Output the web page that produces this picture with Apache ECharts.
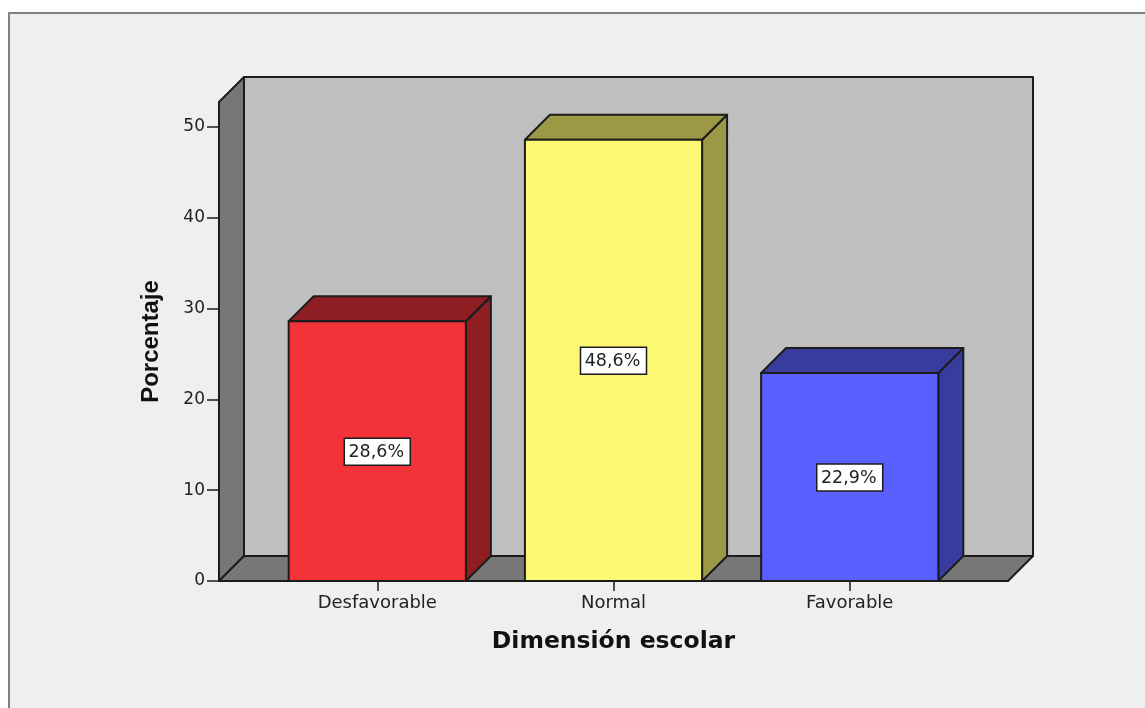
<!DOCTYPE html>
<html>
<head>
<meta charset="utf-8">
<title>Dimensión escolar</title>
<script src="https://cdn.jsdelivr.net/npm/echarts@6/dist/echarts.min.js"></script>
<style>
  html, body { margin: 0; padding: 0; background: #fff; overflow: hidden; }
  /* SPSS style output frame: border only on the top and left */
  #frame {
    position: absolute; left: 8px; top: 12px; right: 0; bottom: 0;
    background: #efefef; border-top: 2px solid #808080; border-left: 2px solid #808080;
  }
  #chart { position: absolute; left: 0; top: 0; width: 1145px; height: 708px; }
</style>
</head>
<body>
<div id="frame"></div>
<div id="chart"></div>
<script>
const categories = ["Desfavorable", "Normal", "Favorable"];
const percentages = [28.6, 48.6, 22.9];
const frontColors = ["#f23339", "#fcf873", "#5a60ff"];
const sideColors = ["#8e1e22", "#9c9845", "#383c9e"];
const yTicks = [0, 10, 20, 30, 40, 50];

const Y_MAX = 52.75;
const X_MIN = -0.67;
const X_MAX = 2.67;
const BAR_HALF = 0.375;
const DEPTH = 25; // px offset of the fake 3D depth
const LINE = "#1c1c1c";
const FONT = "DejaVu Sans";

const poly = (points, fill) => ({
  type: "polygon",
  shape: { points },
  style: { fill, stroke: LINE, lineWidth: 2, lineJoin: "round" },
});

// Back wall, left wall and floor
const renderWalls = (params, api) => {
  const [x0, y0] = api.coord([X_MIN, 0]);
  const [x1, y1] = api.coord([X_MAX, Y_MAX]);
  const d = DEPTH;
  return {
    type: "group",
    children: [
      poly([[x0 + d, y0 - d], [x1 + d, y0 - d], [x1 + d, y1 - d], [x0 + d, y1 - d]], "#bfbfbf"),
      poly([[x0, y0], [x0 + d, y0 - d], [x0 + d, y1 - d], [x0, y1]], "#777777"),
      poly([[x0, y0], [x1, y0], [x1 + d, y0 - d], [x0 + d, y0 - d]], "#777777"),
    ],
  };
};

const renderBar = (params, api) => {
  const i = api.value(0);
  const v = api.value(1);
  const [l, t] = api.coord([i - BAR_HALF, v]);
  const [r, b] = api.coord([i + BAR_HALF, 0]);
  const [cx, cy] = api.coord([i, v / 2]);
  const d = DEPTH;
  const label = v.toFixed(1).replace(".", ",") + "%";
  return {
    type: "group",
    children: [
      poly([[r, b], [r + d, b - d], [r + d, t - d], [r, t]], sideColors[i]),
      poly([[l, t], [r, t], [r + d, t - d], [l + d, t - d]], sideColors[i]),
      poly([[l, t], [r, t], [r, b], [l, b]], frontColors[i]),
      {
        type: "rect",
        shape: { x: cx - 33, y: cy - 13, width: 66, height: 27 },
        style: { fill: "#fff", stroke: LINE, lineWidth: 1.5 },
      },
      {
        type: "text",
        x: cx - 1,
        y: cy + 1,
        style: {
          text: label,
          fill: "#222",
          font: `17.5px "${FONT}"`,
          align: "center",
          verticalAlign: "middle",
        },
      },
    ],
  };
};

const chart = echarts.init(document.getElementById("chart"));
chart.setOption({
  animation: false,
  grid: { left: 219, right: 137, top: 102, bottom: 127 },
  xAxis: {
    type: "value",
    min: X_MIN,
    max: X_MAX,
    splitLine: { show: false },
    name: "Dimensión escolar",
    nameLocation: "middle",
    nameGap: 49,
    nameTextStyle: { fontFamily: FONT, fontWeight: "bold", fontSize: 23.5, color: "#111" },
    axisLine: { show: true, onZero: false, lineStyle: { color: LINE, width: 2 } },
    axisTick: {
      show: true,
      length: 10,
      customValues: [0, 1, 2],
      lineStyle: { color: LINE, width: 1.5 },
    },
    axisLabel: {
      customValues: [0, 1, 2],
      formatter: (v) => categories[v],
      fontFamily: FONT,
      fontSize: 18,
      color: "#222",
      margin: 13,
    },
  },
  yAxis: {
    type: "value",
    min: 0,
    max: Y_MAX,
    interval: 10,
    splitLine: { show: false },
    name: "Porcentaje",
    nameLocation: "middle",
    nameGap: 56,
    nameTextStyle: { fontFamily: "Liberation Sans", fontWeight: "bold", fontSize: 24, color: "#111" },
    axisLine: { show: true, onZero: false, lineStyle: { color: LINE, width: 2 } },
    axisTick: {
      show: true,
      inside: false,
      length: 12,
      customValues: yTicks,
      lineStyle: { color: LINE, width: 1.5 },
    },
    axisLabel: {
      customValues: yTicks,
      fontFamily: FONT,
      fontSize: 17,
      color: "#222",
      margin: 14,
      verticalAlign: "middle",
      lineHeight: 23,
      padding: [8, 0, 0, 0],
    },
  },
  series: [
    {
      name: "walls",
      type: "custom",
      silent: true,
      clip: false,
      z: 1,
      renderItem: renderWalls,
      data: [[0, 0]],
    },
    {
      name: "Porcentaje",
      type: "custom",
      silent: true,
      clip: false,
      z: 3,
      renderItem: renderBar,
      data: percentages.map((v, i) => [i, v]),
    },
  ],
});
</script>
</body>
</html>
